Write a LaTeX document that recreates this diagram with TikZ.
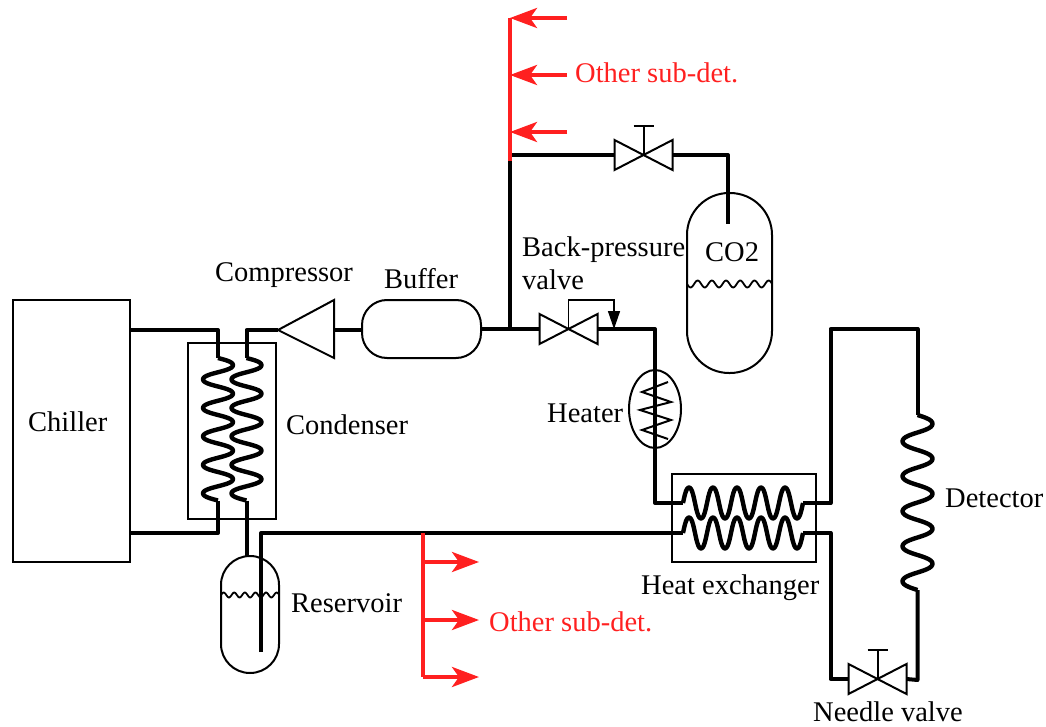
\documentclass[tikz,border=0pt]{standalone}
\usepackage{fontspec}
\setmainfont{Liberation Serif}
\usepackage{tikz}
\usetikzlibrary{positioning, arrows.meta, shapes.geometric}

\definecolor{feedred}{RGB}{255,32,32}
\tikzset{
  pipe/.style={line width=4pt, line join=round},
  coil/.style={line width=4.4pt, line join=round},
  device/.style={draw, line width=2pt, line join=miter, inner sep=0pt},
  tank/.style={device, rectangle, minimum width=#1},
  thinline/.style={line width=2pt, line join=miter},
  feed/.style={feedred, line width=4pt},
  feedarrow/.style={feed, -{Stealth[length=27pt, width=20pt, inset=7pt]}},
  label/.style={font=\fontsize{28.5}{33}\selectfont, inner sep=0pt, align=left},
  handvalve/.pic={
    \draw[thinline] (-29,-15) -- (29,15) -- (29,-15) -- (-29,15) -- cycle;
    \draw[thinline] (0,0) -- (0,-29);
    \draw[thinline] (-10,-29) -- (10,-29);
    \coordinate (-w) at (-29,0);
    \coordinate (-e) at (29,0);
  },
  plainvalve/.pic={
    \draw[thinline] (-29,-15) -- (29,15) -- (29,-15) -- (-29,15) -- cycle;
    \coordinate (-w) at (-29,0);
    \coordinate (-c) at (0,0);
    \coordinate (-e) at (29,0);
  }
}

\begin{document}
\begin{tikzpicture}[x=1pt, y=-1pt]
   \useasboundingbox (0,0) rectangle (1046,727);

   % Boxes and vessels
   \node[device, rectangle, minimum width=117pt, minimum height=262pt] (chiller) at (71.5,431) {};
   \node[device, rectangle, minimum width=88pt, minimum height=176pt] (condenser) at (232,431) {};
   \node[device, rectangle, minimum width=144pt, minimum height=88pt] (hx) at (744,518) {};
   \node[tank=119pt, minimum height=58pt, rounded corners=25pt] (buffer) at (421.5,329) {};
   \node[tank=58pt, minimum height=117pt, rounded corners=28.9pt] (reservoir) at (250,614.5) {};
   \node[tank=85pt, minimum height=180pt, rounded corners=42pt] (co2) at (729.5,283) {};
   \node[device, ellipse, minimum width=52pt, minimum height=78pt] (heater) at (655,409) {};

   % Compressor
   \coordinate (compout) at (278,330);
   \coordinate (compin) at (334,330);
   \draw[thinline] (compout) -- (334,300) -- (334,358) -- cycle;

   % Valves
   \pic (bpv) at (568.5,329) {plainvalve};
   \pic (co2v) at (643.5,155) {handvalve};
   \pic (needle) at (877.5,679) {handvalve};

   % Liquid levels
   \draw[thinline, line width=1.8pt] plot[domain=0:58, samples=70, smooth] ({221+\x},{595-2.5*sin(\x*33.96)});
   \draw[thinline, line width=1.8pt] plot[domain=0:85, samples=80, smooth] ({687+\x},{284+3.5*sin(\x*25.35)});

   % Heater winding
   \draw[thinline] (668,382) -- (642,392) -- (671,402) -- (640,410) -- (671,420) -- (642,430) -- (668,439);

   % Coils
   \foreach \xc/\nm in {218/condl, 246.5/condr} {
     \draw[coil] plot[domain=0:142.5, samples=120, smooth] ({\xc+15*(sin(\x*12.63)+0.04*sin(\x*37.89))/0.96},{358+\x});
     \coordinate (\nm in) at (\xc,358);
     \coordinate (\nm out) at (\xc,500.5);
   }
   \foreach \yc/\nm in {503/hxt, 533/hxb} {
     \draw[coil] plot[domain=0:120, samples=120, smooth] ({683+\x},{\yc-15.5*(sin(\x*15)+0.04*sin(\x*45))/0.96});
     \coordinate (\nm in) at (683,\yc);
     \coordinate (\nm out) at (803,\yc);
   }
   \draw[coil] plot[domain=0:175, samples=120, smooth] ({917.5+15*(sin(\x*10.286)+0.04*sin(\x*30.857))/0.96},{415+\x});
   \coordinate (detin) at (917.5,415);
   \coordinate (detout) at (917.5,590);

   % Junctions
   \coordinate (tee) at (510,329);
   \coordinate (teetop) at (510,155);
   \coordinate (dip) at (261,533);
   \coordinate (dipend) at (261,652);
   \coordinate (co2end) at (728,224);
   \coordinate (feedtop) at (510,18);
   \coordinate (feedbase) at (510,161);
   \coordinate (retee) at (423,533);
   \coordinate (reend) at (423,677);

   % Piping
   \draw[pipe] (chiller.east |- 0,330) -- (218,330) -- (condlin);
   \draw[pipe] (chiller.east |- 0,533) -- (218,533) -- (condlout);
   \draw[pipe] (compout) -- (246.5,330) -- (condrin);
   \draw[pipe] (condrout) -- (246.5,556);
   \draw[pipe] (compin) -- (buffer.west |- compin);
   \draw[pipe] (buffer.east |- tee) -- (bpv-w);
   \draw[pipe] (tee) -- (feedbase);
   \draw[pipe] (teetop) -- (co2v-w);
   \draw[pipe] (co2v-e) -- (728,155) -- (co2end);
   \draw[pipe] (bpv-e) -- (655,329) -- (655,503) -- (hxtin);
   \draw[pipe] (dipend) -- (dip) -- (hxbin);
   \draw[pipe] (hxtout) -- (830.5,503) -- (830.5,329) -- (917.5,329) -- (detin);
   \draw[pipe] (hxbout) -- (830.5,533) -- (830.5,679) -- (needle-w);
   \draw[pipe] (needle-e) -- (917.5,680) -- (detout);

   % Back-pressure sense line
   \draw[line width=1.5pt, -{Triangle[length=18pt, width=12pt]}] (bpv-c) -- (568.5,300) -- (614,300) -- (614,329);

   % Feeds to the other sub-detectors
   \draw[feed] (feedtop) -- (feedbase);
   \foreach \yc/\nm in {18/a, 75/b, 132/c} {
     \coordinate (feed\nm) at (510,\yc);
     \draw[feedarrow] (567,\yc) -- (feed\nm);
   }
   \draw[feed] (retee) -- (reend);
   \foreach \yc/\nm in {562/a, 620/b, 677/c} {
     \coordinate (ret\nm) at (423,\yc);
     \coordinate (rettip\nm) at (479,\yc);
     \draw[feedarrow] (ret\nm) -- (rettip\nm);
   }

   % Labels
   \node[label, anchor=west] (chillertxt) at (28,422) {Chiller};
   \node[label, anchor=west] (comptxt) at (215,275) {Compressor};
   \node[label, anchor=west] (buffertxt) at (384,279) {Buffer};
   \node[label, anchor=north west] (bpvtxt) at (522,237) {Back-pressure\\valve};
   \node[label, anchor=west] (co2txt) at (705,252) {CO2};
   \node[label, anchor=west] (heatertxt) at (547,413) {Heater};
   \node[label, anchor=west] (condtxt) at (286,425) {Condenser};
   \node[label, anchor=west] (restxt) at (291,603) {Reservoir};
   \node[label, anchor=west] (dettxt) at (945,498) {Detector};
   \node[label, anchor=west] (hxtxt) at (641,588) {Heat exchanger};
   \node[label, anchor=west] (needletxt) at (813,712) {Needle valve};
   \node[label, anchor=west, text=feedred] (uppertxt) at (575,73) {Other sub-det.};
   \node[label, anchor=west, text=feedred] (lowertxt) at (489,622) {Other sub-det.};
\end{tikzpicture}
\end{document}
